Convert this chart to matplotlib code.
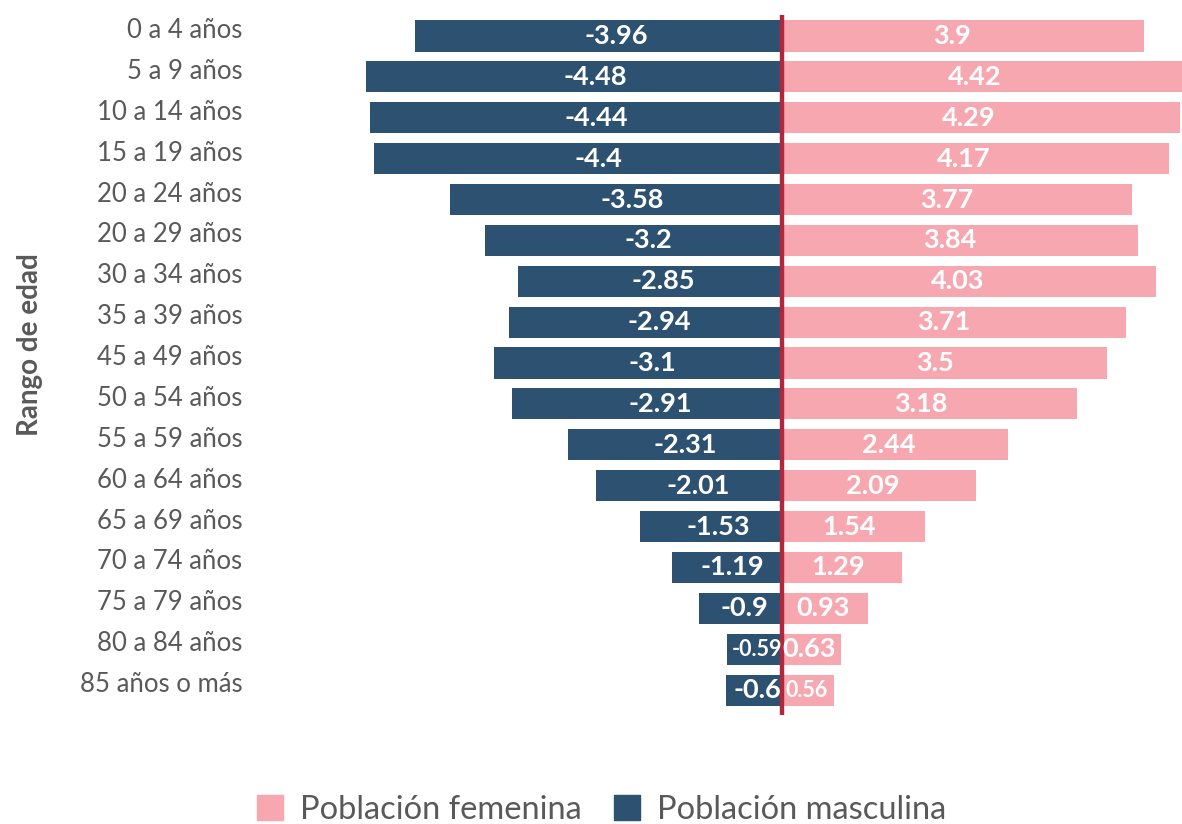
import matplotlib
matplotlib.use("Agg")
import matplotlib.pyplot as plt
import matplotlib.transforms as mtransforms
from matplotlib.patches import Patch

plt.rcParams['font.family'] = ['Lato', 'DejaVu Sans']

grupos = ["0 a 4 años", "5 a 9 años", "10 a 14 años", "15 a 19 años", "20 a 24 años",
          "20 a 29 años", "30 a 34 años", "35 a 39 años", "45 a 49 años", "50 a 54 años",
          "55 a 59 años", "60 a 64 años", "65 a 69 años", "70 a 74 años", "75 a 79 años",
          "80 a 84 años", "85 años o más"]
masculina = [-3.96, -4.48, -4.44, -4.4, -3.58, -3.2, -2.85, -2.94, -3.1, -2.91,
             -2.31, -2.01, -1.53, -1.19, -0.9, -0.59, -0.6]
femenina = [3.9, 4.42, 4.29, 4.17, 3.77, 3.84, 4.03, 3.71, 3.5, 3.18,
            2.44, 2.09, 1.54, 1.29, 0.93, 0.63, 0.56]

AZUL = "#2c5171"
ROSA = "#f6a7b0"
ROJO = "#b0283c"
GRIS = "#595959"

fig = plt.figure(figsize=(11.82, 8.24), dpi=100)
ax = fig.add_axes([0.2157, 0.1323, 0.7843, 0.8495])

pos = list(range(len(grupos)))
ax.barh(pos, masculina, height=0.76, color=AZUL)
ax.barh(pos, femenina, height=0.76, color=ROSA)
ax.axvline(0, color=ROJO, lw=3.2)

ax.set_xlim(-5.68, 4.31)
ax.set_ylim(16.61, -0.514)

for i, (m, f) in enumerate(zip(masculina, femenina)):
    fs_m = 15.5 if abs(m) < 0.6 else 19.5
    fs_f = 15.5 if f < 0.6 else 19.5
    ax.text(m * 0.45, i, str(m), ha="center", va="center", color="white",
            fontsize=fs_m, fontweight="bold")
    ax.text(f * 0.47, i, str(f), ha="center", va="center", color="white",
            fontsize=fs_f, fontweight="bold")

ax.set_yticks(pos)
ax.set_yticklabels(grupos, fontsize=18.5, color=GRIS)
ax.tick_params(axis="y", length=0, pad=9)
shift = mtransforms.ScaledTranslation(0, 8 / 100, fig.dpi_scale_trans)
for lbl in ax.get_yticklabels():
    lbl.set_transform(lbl.get_transform() + shift)
ax.set_xticks([])
for s in ax.spines.values():
    s.set_visible(False)

fig.text(30 / 1182, 1 - 345 / 824, "Rango de edad", rotation=90, ha="center",
         va="center", fontsize=20, fontweight="bold", color=GRIS)

handles = [Patch(color=ROSA, label="Población femenina"),
           Patch(color=AZUL, label="Población masculina")]
fig.legend(handles=handles, loc="center", bbox_to_anchor=(0.509, 0.017), ncol=2,
           frameon=False, fontsize=23.5, handlelength=0.8, handleheight=0.8,
           handletextpad=0.5, columnspacing=1.0, labelcolor=GRIS)

fig.savefig("out.png", dpi=100)
